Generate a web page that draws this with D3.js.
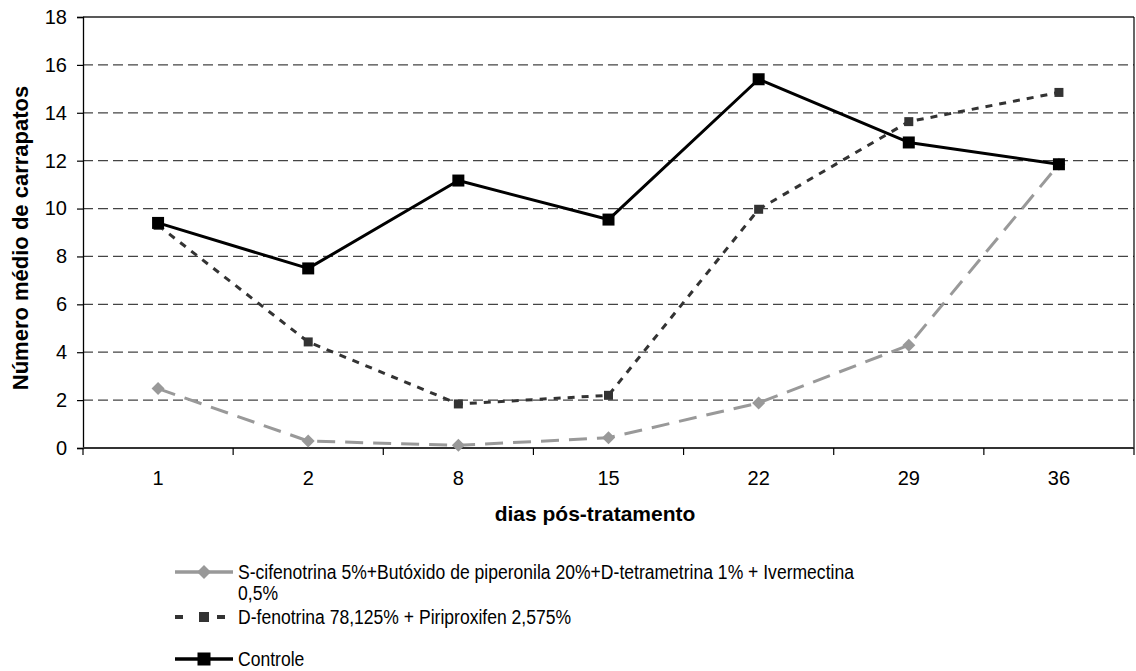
<!DOCTYPE html>
<html>
<head>
<meta charset="utf-8">
<script src="https://cdn.jsdelivr.net/npm/d3@7"></script>
<style>
  html, body { margin: 0; padding: 0; background: #fff; }
  svg { display: block; font-family: "Liberation Sans", Arial, sans-serif; }
</style>
</head>
<body>
<svg id="chart" width="1136" height="671"></svg>
<script>
// Days after treatment (categories on the x axis)
const dias = ["1", "2", "8", "15", "22", "29", "36"];

// Mean tick counts per treatment
const sCifenotrina = [2.48, 0.29, 0.11, 0.43, 1.88, 4.29, 11.85];
const dFenotrina   = [9.3, 4.43, 1.84, 2.2, 9.97, 13.63, 14.85];
const controle     = [9.4, 7.5, 11.17, 9.54, 15.4, 12.76, 11.85];

const yTicks = [0, 2, 4, 6, 8, 10, 12, 14, 16, 18];

const seriesNames = [
  ["S-cifenotrina 5%+Butóxido de piperonila 20%+D-tetrametrina 1% + Ivermectina", "0,5%"],
  ["D-fenotrina 78,125% + Piriproxifen 2,575%"],
  ["Controle"]
];

const series = [
  { values: sCifenotrina, color: "#999999", width: 3, dash: "18,10", marker: "diamond", size: 11 },
  { values: dFenotrina,   color: "#333333", width: 3, dash: "7,7",  marker: "square",  size: 9 },
  { values: controle,     color: "#000000", width: 3, dash: null,   marker: "square",  size: 12 }
];

const svg = d3.select("#chart");
const plot = { left: 83, right: 1134, top: 17, bottom: 448 };

const x = d3.scaleBand().domain(dias).range([plot.left, plot.right]).padding(0);
const y = d3.scaleLinear().domain([0, 18]).range([plot.bottom, plot.top]);

// Horizontal dashed gridlines
svg.append("g")
  .selectAll("line")
  .data(yTicks.filter(t => t > 0 && t < 18))
  .join("line")
  .attr("x1", plot.left).attr("x2", plot.right)
  .attr("y1", d => y(d)).attr("y2", d => y(d))
  .attr("stroke", "#444")
  .attr("stroke-width", 1.3)
  .attr("stroke-dasharray", "10,5");

// Top and right border of the plot area
svg.append("line")
  .attr("x1", plot.left).attr("x2", plot.right)
  .attr("y1", y(18)).attr("y2", y(18))
  .attr("stroke", "#222").attr("stroke-width", 1.3);
svg.append("line")
  .attr("x1", plot.right).attr("x2", plot.right)
  .attr("y1", plot.top).attr("y2", plot.bottom)
  .attr("stroke", "#000").attr("stroke-width", 1.2);

// Y axis
const yAxis = svg.append("g")
  .attr("transform", `translate(${plot.left},0)`)
  .call(d3.axisLeft(y).tickValues(yTicks).tickSize(6).tickPadding(10));
yAxis.select(".domain").attr("stroke", "#000").attr("stroke-width", 1.3);
yAxis.selectAll(".tick line").attr("stroke", "#000").attr("stroke-width", 1.2);
yAxis.selectAll(".tick text")
  .attr("font-size", 20).attr("fill", "#000")
  .attr("font-family", "'Liberation Sans', Arial, sans-serif");

// X axis: ticks on category boundaries, labels centred in each band
const xAxisG = svg.append("g").attr("transform", `translate(0,${plot.bottom})`);
xAxisG.append("line")
  .attr("x1", plot.left).attr("x2", plot.right)
  .attr("y1", 0).attr("y2", 0)
  .attr("stroke", "#333").attr("stroke-width", 2.2);
const boundaries = dias.map(d => x(d)).concat([plot.right]);
xAxisG.selectAll("line.tick")
  .data(boundaries)
  .join("line")
  .attr("class", "tick")
  .attr("x1", d => d).attr("x2", d => d)
  .attr("y1", 0).attr("y2", 7)
  .attr("stroke", "#000").attr("stroke-width", 1.2);
xAxisG.selectAll("text")
  .data(dias)
  .join("text")
  .attr("x", d => x(d) + x.bandwidth() / 2)
  .attr("y", 37)
  .attr("text-anchor", "middle")
  .attr("font-size", 20)
  .text(d => d);

// Axis titles
svg.append("text")
  .attr("x", 595).attr("y", 521)
  .attr("text-anchor", "middle")
  .attr("font-size", 21).attr("font-weight", "bold")
  .text("dias pós-tratamento");

svg.append("text")
  .attr("transform", "translate(28,238) rotate(-90)")
  .attr("text-anchor", "middle")
  .attr("font-size", 22).attr("font-weight", "bold")
  .text("Número médio de carrapatos");

// Marker drawing helper
function drawMarker(g, type, cx, cy, size, color) {
  if (type === "square") {
    g.append("rect")
      .attr("x", cx - size / 2).attr("y", cy - size / 2)
      .attr("width", size).attr("height", size)
      .attr("fill", color);
  } else {
    const r = size / 2 + 1;
    g.append("path")
      .attr("d", `M${cx},${cy - r}L${cx + r},${cy}L${cx},${cy + r}L${cx - r},${cy}Z`)
      .attr("fill", color);
  }
}

// Series lines and markers
const line = d3.line()
  .x((d, i) => x(dias[i]) + x.bandwidth() / 2)
  .y(d => y(d));

series.forEach(s => {
  const g = svg.append("g");
  g.append("path")
    .datum(s.values)
    .attr("d", line)
    .attr("fill", "none")
    .attr("stroke", s.color)
    .attr("stroke-width", s.width)
    .attr("stroke-dasharray", s.dash)
    .attr("stroke-linejoin", "round");
  s.values.forEach((v, i) => {
    drawMarker(g, s.marker, x(dias[i]) + x.bandwidth() / 2, y(v), s.size, s.color);
  });
});

// Legend
const legendRows = [572, 617, 659];
const legend = svg.append("g");
series.forEach((s, i) => {
  const ly = legendRows[i];
  if (i === 1) {
    [[175, 183], [217, 225]].forEach(([a, b]) => {
      legend.append("line")
        .attr("x1", a).attr("x2", b).attr("y1", ly).attr("y2", ly)
        .attr("stroke", s.color).attr("stroke-width", 4);
    });
  } else {
    legend.append("line")
      .attr("x1", 175).attr("x2", 233)
      .attr("y1", ly).attr("y2", ly)
      .attr("stroke", s.color)
      .attr("stroke-width", 3.5);
  }
  drawMarker(legend, s.marker, 204, ly, s.size + 1, s.color);
  seriesNames[i].forEach((t, k) => {
    legend.append("text")
      .attr("transform", `translate(238,${ly + 7 + k * 21}) scale(0.9,1)`)
      .attr("font-size", 19.5)
      .text(t);
  });
});
</script>
</body>
</html>
